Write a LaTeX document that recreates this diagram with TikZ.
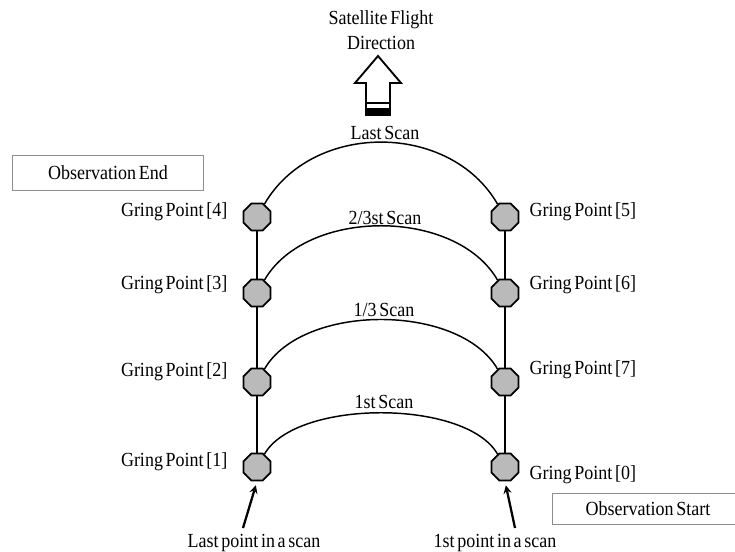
\documentclass[tikz,border=0pt]{standalone}
\usepackage{fontspec}
\setmainfont{Liberation Serif}[FakeStretch=0.9,WordSpace=0.6]
\usetikzlibrary{arrows,shapes.geometric}

\begin{document}
\begin{tikzpicture}[x=0.75pt,y=-0.75pt,>=stealth,
  gpt/.style={regular polygon,regular polygon sides=8,draw,line width=1.3pt,fill=black!27,minimum size=22pt,inner sep=0pt},
  lbl/.style={font=\fontsize{15}{19}\selectfont,inner sep=1pt},
  obsbox/.style={lbl,draw=black!45,line width=1.2pt,minimum width=143pt},
  scanline/.style={line width=1.1pt}]
\useasboundingbox (0,0) rectangle (735,552);
% direction of flight
\draw [line width=1.4pt,fill=white] (378,56) -- (401,83) -- (390,83) -- (390,115) -- (366,115) -- (366,83) -- (355,83) -- cycle;
\draw [line width=1pt] (366,103) -- (390,103);
\fill (366,108) rectangle (390,115);
\node [lbl,align=center] (dir) at (381,30) {Satellite Flight\\Direction};
% gring points
\node [gpt] (g1) at (257,467) {};
\node [gpt] (g2) at (257,382) {};
\node [gpt] (g3) at (257,293) {};
\node [gpt] (g4) at (257,217) {};
\node [gpt] (g0) at (505,467) {};
\node [gpt] (g7) at (505,382) {};
\node [gpt] (g6) at (505,293) {};
\node [gpt] (g5) at (505,217) {};
\draw [scanline] (g1) -- (g2) -- (g3) -- (g4);
\draw [scanline] (g0) -- (g7) -- (g6) -- (g5);
\node [lbl,anchor=east] (t1) at (229,462) {Gring Point [1]};
\node [lbl,anchor=east] (t2) at (229,372) {Gring Point [2]};
\node [lbl,anchor=east] (t3) at (229,285) {Gring Point [3]};
\node [lbl,anchor=east] (t4) at (229,212) {Gring Point [4]};
\node [lbl,anchor=west] (t0) at (528,475) {Gring Point [0]};
\node [lbl,anchor=west] (t7) at (528,370) {Gring Point [7]};
\node [lbl,anchor=west] (t6) at (528,285) {Gring Point [6]};
\node [lbl,anchor=west] (t5) at (528,212) {Gring Point [5]};
% scans
\draw [scanline] (g1.60) to[out=60,in=120,looseness=0.7] (g0.120);
\draw [scanline] (g2.60) to[out=60,in=120,looseness=0.84] (g7.120);
\draw [scanline] (g3.60) to[out=60,in=120,looseness=0.92] (g6.120);
\draw [scanline] (g4.60) to[out=60,in=120,looseness=1.05] (g5.120);
\node [lbl] (s1) at (384,402) {1st Scan};
\node [lbl] (s2) at (384,310) {1/3 Scan};
\node [lbl] (s3) at (385,218) {2/3st Scan};
\node [lbl] (s4) at (385,133) {Last Scan};
% observation boxes
\node [obsbox,minimum height=26pt] (oe) at (108,173) {Observation End};
\node [obsbox,minimum height=23pt] (os) at (648,509) {Observation Start};
% first and last points
\coordinate (lp) at (243,528);
\coordinate (fp) at (515,528);
\draw [->,line width=1.7pt,shorten >=3pt] (lp) -- (g1.south);
\draw [->,line width=1.7pt,shorten >=3pt] (fp) -- (g0.south);
\node [lbl] (lpt) at (254,543) {Last point in a scan};
\node [lbl] (fpt) at (495,543) {1st point in a scan};
\end{tikzpicture}
\end{document}
